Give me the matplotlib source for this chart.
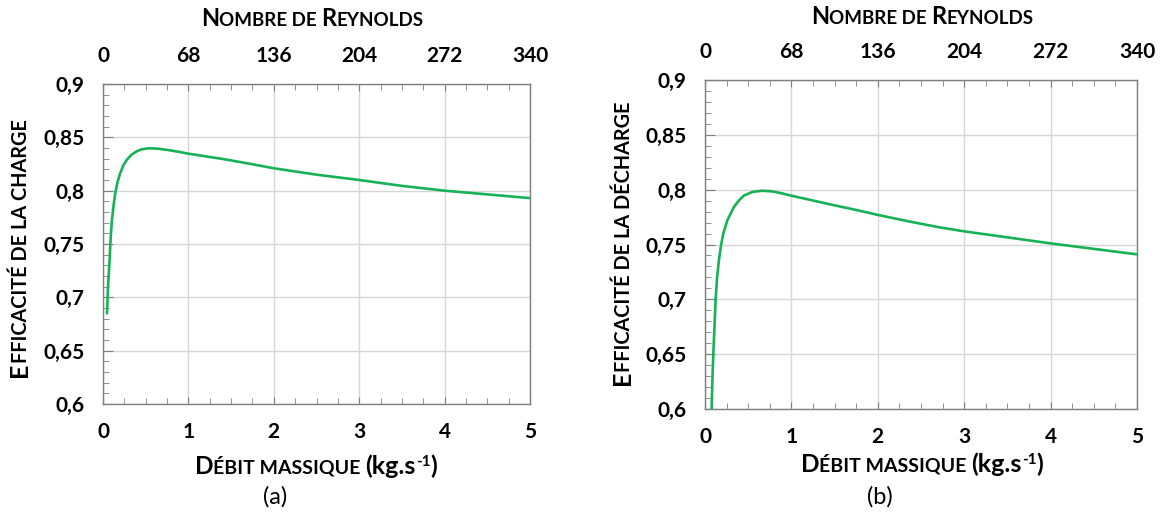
import matplotlib
matplotlib.use("Agg")
import matplotlib.pyplot as plt
from matplotlib.ticker import MultipleLocator, FixedLocator, FuncFormatter

plt.rcParams['font.family'] = ['Lato', 'DejaVu Sans']

# ---------------- data ----------------
debit_a = [0.047, 0.06, 0.077, 0.09, 0.105, 0.125, 0.144, 0.17, 0.202, 0.24, 0.28, 0.33,
           0.397, 0.45, 0.52, 0.572, 0.65, 0.786, 0.9, 1.0, 1.2, 1.41, 1.7, 2.0, 2.5,
           3.0, 3.5, 4.0, 4.5, 5.0]
eff_a = [0.685, 0.712, 0.735, 0.756, 0.773, 0.787, 0.798, 0.808, 0.8166, 0.824, 0.829, 0.8335,
         0.837, 0.8387, 0.8396, 0.8397, 0.8393, 0.8378, 0.8362, 0.8347, 0.8322, 0.8296, 0.8255,
         0.821, 0.815, 0.810, 0.8045, 0.800, 0.7965, 0.793]

debit_b = [0.075, 0.085, 0.096, 0.11, 0.123, 0.14, 0.161, 0.185, 0.211, 0.257, 0.333, 0.39,
           0.448, 0.55, 0.66, 0.77, 0.87, 1.0, 1.2, 1.483, 1.75, 2.0, 2.35, 2.71, 3.0, 3.5,
           4.0, 4.5, 5.0]
eff_b = [0.595, 0.625, 0.65, 0.676, 0.7, 0.72, 0.7355, 0.749, 0.7597, 0.7718, 0.784, 0.790,
         0.7945, 0.798, 0.799, 0.7985, 0.797, 0.7945, 0.791, 0.786, 0.7815, 0.777, 0.7712,
         0.7657, 0.762, 0.7565, 0.751, 0.746, 0.741]

reynolds_labels = ["0", "68", "136", "204", "272", "340"]
x_major = [0, 1, 2, 3, 4, 5]
y_major = [0.6, 0.65, 0.7, 0.75, 0.8, 0.85, 0.9]
# (text, fontsize, baseline rise px, kerning px after)
y_label_a = [("E", 18, 0, -1), ("FFICACITÉ DE LA CHARGE", 14.3)]
y_label_b = [("E", 18, 0, -1), ("FFICACITÉ DE LA DÉCHARGE", 14.3)]
top_title = [("N", 17), ("OMBRE DE ", 13.5), ("R", 17), ("EYNOLDS", 13.5)]
x_title = [("D", 17.5), ("ÉBIT MASSIQUE ", 14), ("(kg.s", 18), ("-1", 11, 7.5), (")", 18)]

GREEN = "#17b256"
GRID = "#d6d6d6"
SPINE = "#7f7f7f"
TICK_FS = 15

W, H = 1161, 515
fig = plt.figure(figsize=(W / 100, H / 100), dpi=100)


def frac(px, py):
    return px / W, 1 - py / H


def setup(ax, xs, ys):
    ax.plot(xs, ys, color=GREEN, lw=1.9, solid_capstyle='round', zorder=3)
    ax.set_xlim(0, 5)
    ax.set_ylim(0.6, 0.9)
    ax.xaxis.set_major_locator(FixedLocator(x_major))
    ax.xaxis.set_minor_locator(MultipleLocator(0.25))
    ax.yaxis.set_major_locator(FixedLocator(y_major))
    ax.yaxis.set_minor_locator(MultipleLocator(0.01))
    ax.yaxis.set_major_formatter(FuncFormatter(lambda v, p: ("%g" % round(v, 2)).replace(".", ",")))
    ax.grid(True, which='major', color=GRID, lw=1.0, zorder=0)
    for s in ax.spines.values():
        s.set_color(SPINE)
        s.set_linewidth(1.0)
    ax.tick_params(axis='x', which='both', direction='in', top=True, bottom=True,
                   color=SPINE, labelsize=TICK_FS, pad=13)
    ax.tick_params(axis='x', which='major', length=5)
    ax.tick_params(axis='x', which='minor', length=4)
    ax.tick_params(axis='y', which='both', direction='in', left=True, right=False,
                   color=SPINE, labelsize=TICK_FS, pad=13)
    ax.tick_params(axis='y', which='major', length=7)
    ax.tick_params(axis='y', which='minor', length=4)
    for lab in ax.get_xticklabels() + ax.get_yticklabels():
        lab.set_fontweight('bold')
    sec = ax.secondary_xaxis('top')
    sec.set_xticks(x_major, labels=reynolds_labels)
    sec.tick_params(length=0, labelsize=TICK_FS, pad=13)
    sec.spines['top'].set_visible(False)
    for lab in sec.get_xticklabels():
        lab.set_fontweight('bold')


def seg_text(segments, cx, cy, rotation=0):
    """Place small-caps style text made of segments, centred on pixel (cx, cy)."""
    r = fig.canvas.get_renderer()
    widths = []
    for seg in segments:
        s, size = seg[0], seg[1]
        kern = seg[3] if len(seg) > 3 else 0
        t1 = fig.text(0, 0, "|" + s + "|", fontsize=size, fontweight='bold')
        t2 = fig.text(0, 0, "||", fontsize=size, fontweight='bold')
        w = t1.get_window_extent(r).width - t2.get_window_extent(r).width + kern
        t1.remove()
        t2.remove()
        widths.append(w)
    total = sum(widths)
    pos = -total / 2
    for seg, w in zip(segments, widths):
        s, size = seg[0], seg[1]
        rise = seg[2] if len(seg) > 2 else 0
        if rotation == 0:
            px = cx + pos
            py = cy + 6 - rise
        else:
            px = cx + 6 - rise
            py = cy - pos
        fx, fy = frac(px, py)
        fig.text(fx, fy, s, fontsize=size, fontweight='bold', rotation=rotation,
                 rotation_mode='anchor', ha='left', va='baseline')
        pos += w


ax_a = fig.add_axes([103 / W, 1 - 404 / H, (530 - 103) / W, (404 - 84) / H])
ax_b = fig.add_axes([705 / W, 1 - 409 / H, (1137 - 705) / W, (409 - 80) / H])
setup(ax_a, debit_a, eff_a)
setup(ax_b, debit_b, eff_b)

fig.canvas.draw()

seg_text(top_title, 312, 20)
seg_text(top_title, 922, 18)
seg_text(x_title, 316, 468)
seg_text(x_title, 922, 466)
seg_text(y_label_a, 21, 248, rotation=90)
seg_text(y_label_b, 624, 243, rotation=90)

fx, fy = frac(275, 497)
fig.text(fx, fy, "(a)", fontsize=17, ha='center', va='center')
fx, fy = frac(880, 497)
fig.text(fx, fy, "(b)", fontsize=17, ha='center', va='center')

fig.savefig("out.png", dpi=100)
